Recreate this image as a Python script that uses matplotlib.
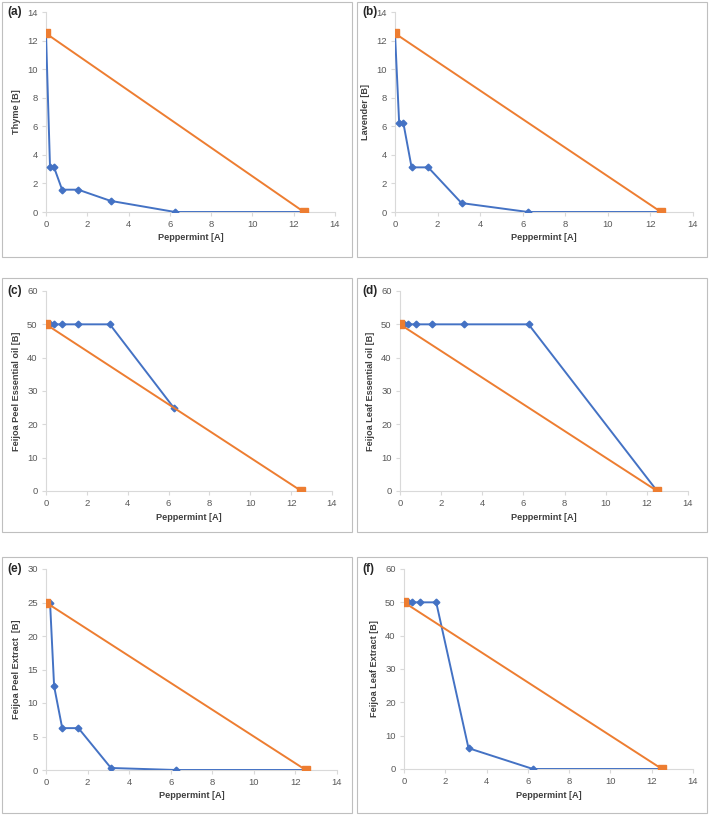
import matplotlib.pyplot as plt
from matplotlib.patches import Rectangle

plt.rcParams['font.family'] = ['Liberation Sans', 'DejaVu Sans']

# concentrations of peppermint [A]
dilA = [0, 0.195, 0.39, 0.78, 1.56, 3.125, 6.25, 12.5]

# isobologram points (blue) for each panel
a_x = dilA
a_y = [12.5, 3.125, 3.125, 1.5625, 1.5625, 0.78, 0, 0]
b_x = dilA
b_y = [12.5, 6.25, 6.25, 3.125, 3.125, 0.625, 0, 0]
c_x = [0, 0.195, 0.39, 0.78, 1.56, 3.125, 6.25]
c_y = [50, 50, 50, 50, 50, 50, 25]
d_x = dilA
d_y = [50, 50, 50, 50, 50, 50, 50, 0]
e_x = [0.195, 0.39, 0.78, 1.56, 3.125, 6.25, 12.5]
e_y = [25, 12.5, 6.25, 6.25, 0.3, 0, 0]
f_x = dilA
f_y = [50, 50, 50, 50, 50, 6.25, 0, 0]

# additivity lines (orange): MIC of A alone, MIC of B alone
micA = [12.5, 12.5, 12.5, 12.5, 12.5, 12.5]
micB = [12.5, 12.5, 50, 50, 25, 50]

labels = ['(a)', '(b)', '(c)', '(d)', '(e)', '(f)']
ylabels = ['Thyme [B]', 'Lavender [B]', 'Feijoa Peel Essential oil [B]',
           'Feijoa Leaf Essential oil [B]', 'Feijoa Peel Extract  [B]',
           'Feijoa Leaf Extract [B]']
ymaxs = [14, 14, 60, 60, 30, 60]
ysteps = [2, 2, 10, 10, 5, 10]
blue = [(a_x, a_y), (b_x, b_y), (c_x, c_y), (d_x, d_y), (e_x, e_y), (f_x, f_y)]

# pixel boxes: axes (left, right, top, bottom) and panel frame
W, H = 709, 815
axbox = [(46, 335, 12, 212), (395, 693, 12, 212),
         (46, 332, 291, 491), (400, 688, 291, 491),
         (46, 337, 569, 770), (404, 693, 569, 769)]
frames = [(2, 352, 2, 257), (357, 707, 2, 257),
          (2, 352, 278, 532), (357, 707, 278, 532),
          (2, 352, 557, 813), (357, 707, 557, 813)]

BLUE = '#4472C4'
ORANGE = '#ED7D31'
GRID = '#D9D9D9'
TXT = '#595959'

fig = plt.figure(figsize=(W / 100, H / 100), dpi=100)

for (l, r, t, b) in frames:
    fig.patches.append(Rectangle((l / W, 1 - b / H), (r - l) / W, (b - t) / H,
                                 transform=fig.transFigure, fill=False,
                                 edgecolor='#BFBFBF', linewidth=0.8))

for i in range(6):
    l, r, t, b = axbox[i]
    ax = fig.add_axes([l / W, 1 - b / H, (r - l) / W, (b - t) / H])
    bx, by = blue[i]
    ax.plot(bx, by, color=BLUE, lw=1.4, marker='D', ms=3.4, zorder=3)
    ax.plot([0, micA[i]], [micB[i], 0], color=ORANGE, lw=1.4,
            marker='s', ms=5.5, zorder=4)
    ax.set_xlim(0, 14)
    ax.set_ylim(0, ymaxs[i])
    ax.set_xticks(range(0, 15, 2))
    ax.set_yticks(range(0, ymaxs[i] + 1, ysteps[i]))
    for s in ['top', 'right']:
        ax.spines[s].set_visible(False)
    for s in ['left', 'bottom']:
        ax.spines[s].set_color(GRID)
        ax.spines[s].set_linewidth(0.8)
    ax.tick_params(colors=GRID, labelcolor=TXT, labelsize=6.8, length=3,
                   width=0.8, pad=3)
    ax.set_xlabel('Peppermint [A]', fontsize=6.6, fontweight='bold',
                  color='#404040', labelpad=3)
    ax.set_ylabel(ylabels[i], fontsize=6.6, fontweight='bold',
                  color='#404040', labelpad=4)
    fl = frames[i][0]
    fig.text((fl + 5) / W, 1 - t / H, labels[i], fontsize=8.5,
             fontweight='bold', color='#262626', ha='left', va='center')

fig.savefig('out.png', dpi=100)
